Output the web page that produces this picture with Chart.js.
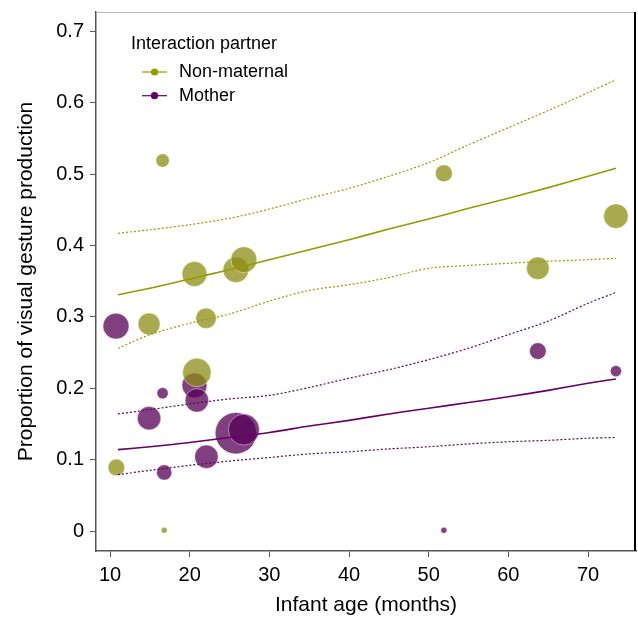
<!DOCTYPE html>
<html>
<head>
<meta charset="utf-8">
<script src="https://cdn.jsdelivr.net/npm/chart.js@4/dist/chart.umd.min.js"></script>
<style>
  html, body { margin: 0; padding: 0; background: #fff; }
  #wrap { width: 638px; height: 620px; }
</style>
</head>
<body>
<div id="wrap"><canvas id="myChart" width="638" height="620"></canvas></div>
<script>
// observed proportions, one bubble per infant/session
const nonMatAge  = [16.6, 20.6, 25.8, 26.8, 14.9, 22.05, 20.9, 10.8, 16.8, 51.9, 73.5, 63.7];
const nonMatProp = [0.519, 0.360, 0.366, 0.380, 0.290, 0.298, 0.222, 0.089, 0.001, 0.501, 0.441, 0.368];
const nonMatN    = [20, 69, 73, 75, 54, 47, 90, 31, 4, 32, 67, 57];

const motherAge  = [10.75, 20.6, 16.6, 20.9, 14.9, 25.8, 26.8, 22.1, 16.8, 63.7, 73.5, 51.9];
const motherProp = [0.287, 0.204, 0.193, 0.183, 0.158, 0.137, 0.142, 0.104, 0.082, 0.252, 0.224, 0.001];
const motherN    = [75, 69, 14, 61, 61, 190, 107, 61, 26, 31, 14, 4];

// model fit + confidence band
const fitAge    = [11, 15, 20, 25, 30, 35, 40, 45, 50, 55, 60, 65, 70, 73.5];
const nonMatFit = [0.331, 0.340, 0.353, 0.366, 0.380, 0.394, 0.408, 0.423, 0.437, 0.452, 0.466, 0.481, 0.497, 0.508];
const nonMatHi  = [0.417, 0.422, 0.429, 0.438, 0.451, 0.466, 0.480, 0.497, 0.516, 0.541, 0.565, 0.589, 0.614, 0.632];
const nonMatLo  = [0.256, 0.275, 0.291, 0.304, 0.322, 0.337, 0.345, 0.355, 0.368, 0.372, 0.375, 0.378, 0.380, 0.382];
const motherFit = [0.114, 0.118, 0.124, 0.131, 0.138, 0.147, 0.155, 0.164, 0.172, 0.180, 0.188, 0.197, 0.207, 0.213];
const motherHi  = [0.164, 0.170, 0.178, 0.185, 0.190, 0.201, 0.214, 0.226, 0.240, 0.256, 0.275, 0.294, 0.319, 0.334];
const motherLo  = [0.079, 0.085, 0.092, 0.098, 0.103, 0.108, 0.111, 0.115, 0.118, 0.122, 0.125, 0.127, 0.130, 0.131];

const xTicks = [10, 20, 30, 40, 50, 60, 70];
const yTicks = [0, 0.1, 0.2, 0.3, 0.4, 0.5, 0.6, 0.7];
const legendLabels = ['Non-maternal', 'Mother'];

const OLIVE = '#999900';
const PURPLE = '#660066';
const FONT = '"Liberation Sans", Arial, Helvetica, sans-serif';

function bubbles(ages, props, ns) {
  return ages.map((a, i) => ({ x: a, y: props[i], r: 1.5 * Math.sqrt(ns[i]) }));
}
function curve(ys) {
  return fitAge.map((a, i) => ({ x: a, y: ys[i] }));
}
function fitLine(ys, color, dashed) {
  return {
    type: 'line',
    data: curve(ys),
    borderColor: color,
    borderWidth: dashed ? 1.2 : 1.6,
    borderDash: dashed ? [2, 2] : [],
    pointRadius: 0,
    tension: 0.3,
    fill: false,
    order: 0
  };
}
// no extra label padding, keep plot box fixed
function noPad(s) {
  s.paddingTop = 0; s.paddingBottom = 0; s.paddingLeft = 0; s.paddingRight = 0;
}

// frame (top/right) + legend drawn inside the plot
const extras = {
  id: 'extras',
  afterDraw(chart) {
    const { ctx, chartArea: a } = chart;
    ctx.save();
    ctx.strokeStyle = '#bbbbbb';
    ctx.lineWidth = 1;
    ctx.beginPath();
    ctx.moveTo(a.left, a.top + 0.5);
    ctx.lineTo(a.right, a.top + 0.5);
    ctx.stroke();
    ctx.strokeStyle = '#000';
    ctx.lineWidth = 2;
    ctx.beginPath();
    ctx.moveTo(a.right - 1, a.top);
    ctx.lineTo(a.right - 1, a.bottom);
    ctx.stroke();

    ctx.font = '18px ' + FONT;
    ctx.fillStyle = '#000';
    ctx.textBaseline = 'middle';
    ctx.textAlign = 'left';
    ctx.fillText('Interaction partner', 131, 44);
    const cols = [OLIVE, PURPLE];
    legendLabels.forEach((lab, i) => {
      const y = 72 + i * 23.7;
      ctx.strokeStyle = cols[i];
      ctx.lineWidth = 1.2;
      ctx.beginPath();
      ctx.moveTo(142, y);
      ctx.lineTo(167, y);
      ctx.stroke();
      ctx.fillStyle = cols[i];
      ctx.beginPath();
      ctx.arc(154.5, y, 3.6, 0, Math.PI * 2);
      ctx.fill();
      ctx.fillStyle = '#000';
      ctx.fillText(lab, 179, y);
    });
    ctx.restore();
  }
};

const ctx = document.getElementById('myChart');
new Chart(ctx, {
  type: 'bubble',
  data: {
    datasets: [
      fitLine(nonMatFit, OLIVE, false),
      fitLine(nonMatHi, OLIVE, true),
      fitLine(nonMatLo, OLIVE, true),
      fitLine(motherFit, PURPLE, false),
      fitLine(motherHi, PURPLE, true),
      fitLine(motherLo, PURPLE, true),
      {
        label: legendLabels[0],
        data: bubbles(nonMatAge, nonMatProp, nonMatN),
        backgroundColor: 'rgba(140,140,20,0.75)',
        borderColor: 'rgba(255,255,230,0.6)',
        borderWidth: 0.8,
        order: 1
      },
      {
        label: legendLabels[1],
        data: bubbles(motherAge, motherProp, motherN),
        backgroundColor: 'rgba(85,0,85,0.75)',
        borderColor: 'rgba(255,235,255,0.6)',
        borderWidth: 0.8,
        order: 2
      }
    ]
  },
  options: {
    responsive: false,
    animation: false,
    layout: { autoPadding: false, padding: { left: 0, top: 12, right: 2, bottom: 0 } },
    plugins: { legend: { display: false }, tooltip: { enabled: false } },
    elements: { point: { hoverRadius: 0 } },
    scales: {
      x: {
        type: 'linear',
        min: 8.24,
        max: 76.02,
        afterBuildTicks: s => { s.ticks = xTicks.map(v => ({ value: v })); },
        afterFit: s => { s.height = 69; noPad(s); },
        ticks: { color: '#000', font: { family: FONT, size: 20 }, padding: 6, maxRotation: 0 },
        grid: { drawOnChartArea: false, drawTicks: true, tickLength: 6, color: '#555' },
        border: { color: '#555', width: 1.5 },
        title: { display: true, text: 'Infant age (months)', color: '#000',
                 font: { family: FONT, size: 21 }, padding: { top: 0, bottom: 2 } }
      },
      y: {
        type: 'linear',
        min: -0.028,
        max: 0.727,
        afterBuildTicks: s => { s.ticks = yTicks.map(v => ({ value: v })); },
        afterFit: s => { s.width = 96; noPad(s); },
        ticks: { color: '#000', font: { family: FONT, size: 20 }, padding: 6,
                 callback: v => String(Math.round(v * 10) / 10) },
        grid: { drawOnChartArea: false, drawTicks: true, tickLength: 6, color: '#555' },
        border: { color: '#555', width: 1.5 },
        title: { display: true, text: 'Proportion of visual gesture production', color: '#000',
                 font: { family: FONT, size: 21 }, padding: { top: 14, bottom: 0 } }
      }
    }
  },
  plugins: [extras]
});
</script>
</body>
</html>
